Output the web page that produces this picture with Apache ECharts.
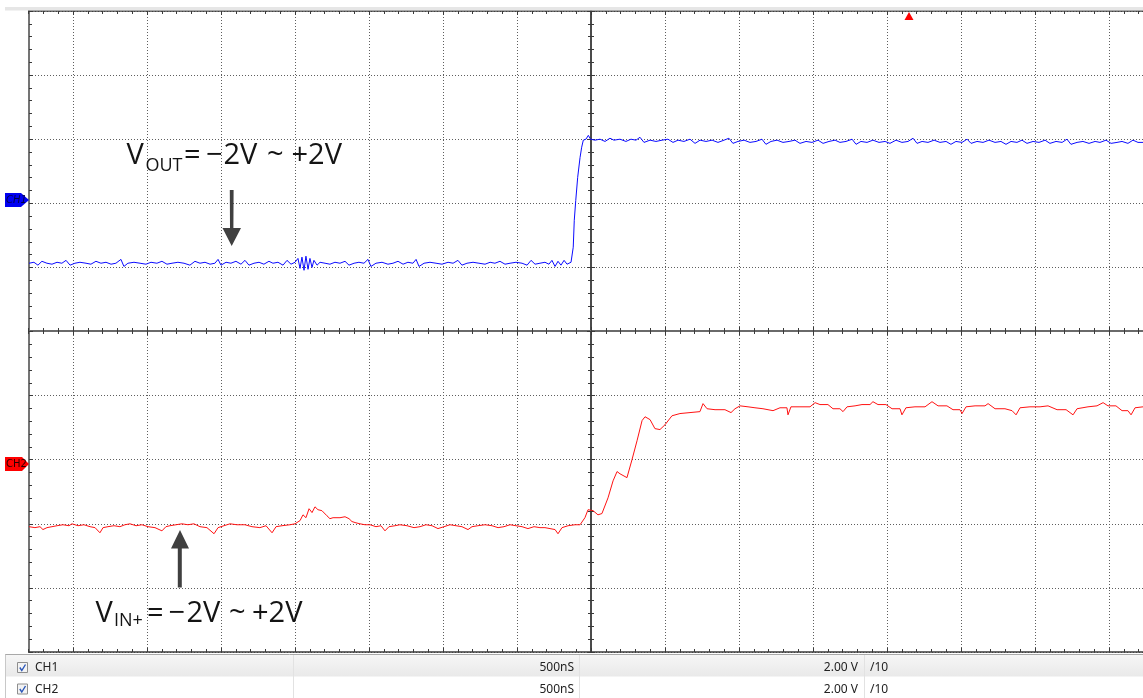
<!DOCTYPE html>
<html><head><meta charset="utf-8">
<script src="https://cdn.jsdelivr.net/npm/echarts@6/dist/echarts.min.js"></script>
<style>html,body{margin:0;padding:0;background:#fff;overflow:hidden}#c{width:1143px;height:698px}</style>
</head><body><div id="c"></div>
<script>
// time base: 500 ns/div, both channels 2.00 V/div
const timeRange = [-4000, 4000];
const timeDiv = 500;
const ch1Range = [-14, 6];
const ch2Range = [-6, 14];
const voltDiv = 2;

// CH1 (V_OUT) samples [ns, V]
const ch1Data = [[-3797,-1.87],[-3764,-1.84],[-3737,-1.93],[-3710,-1.81],[-3676,-1.87],[-3642,-1.90],[-3608,-1.84],[-3575,-1.87],[-3547,-1.78],[-3520,-1.93],[-3487,-1.87],[-3453,-1.84],[-3412,-1.87],[-3379,-1.90],[-3345,-1.81],[-3311,-1.87],[-3277,-1.84],[-3243,-1.90],[-3210,-1.87],[-3176,-1.75],[-3156,-1.97],[-3129,-1.87],[-3088,-1.84],[-3047,-1.87],[-3007,-1.90],[-2973,-1.84],[-2933,-1.87],[-2899,-1.81],[-2865,-1.90],[-2831,-1.87],[-2791,-1.84],[-2750,-1.87],[-2710,-1.93],[-2676,-1.81],[-2642,-1.87],[-2608,-1.84],[-2574,-1.90],[-2541,-1.87],[-2520,-1.75],[-2500,-1.93],[-2466,-1.84],[-2433,-1.87],[-2399,-1.81],[-2365,-1.90],[-2338,-1.78],[-2311,-1.93],[-2277,-1.87],[-2243,-1.84],[-2210,-1.90],[-2176,-1.81],[-2149,-1.87],[-2115,-1.84],[-2081,-1.93],[-2054,-1.78],[-2027,-1.90],[-2000,-1.84],[-1980,-1.72],[-1966,-2.03],[-1953,-1.68],[-1939,-2.09],[-1926,-1.65],[-1912,-2.06],[-1899,-1.72],[-1885,-2.00],[-1872,-1.78],[-1851,-1.93],[-1831,-1.84],[-1797,-1.87],[-1764,-1.90],[-1730,-1.84],[-1696,-1.87],[-1662,-1.81],[-1635,-1.93],[-1601,-1.87],[-1568,-1.84],[-1534,-1.87],[-1507,-1.75],[-1487,-1.97],[-1453,-1.87],[-1412,-1.84],[-1372,-1.90],[-1338,-1.87],[-1304,-1.81],[-1270,-1.90],[-1237,-1.84],[-1203,-1.87],[-1182,-1.75],[-1162,-1.97],[-1128,-1.87],[-1088,-1.84],[-1047,-1.87],[-1007,-1.90],[-966,-1.84],[-932,-1.87],[-899,-1.78],[-872,-1.93],[-838,-1.87],[-797,-1.84],[-757,-1.87],[-716,-1.90],[-682,-1.84],[-649,-1.87],[-615,-1.81],[-581,-1.90],[-547,-1.87],[-507,-1.84],[-466,-1.87],[-432,-1.93],[-405,-1.78],[-378,-1.90],[-345,-1.87],[-311,-1.84],[-284,-1.90],[-264,-1.78],[-243,-1.97],[-223,-1.81],[-203,-1.93],[-182,-1.78],[-162,-1.90],[-149,-1.84],[-135,-1.84],
[-130,-1.81],[-120,-1.37],[-113,-0.53],[-103,0.09],[-90,0.81],[-74,1.43],[-63,1.75],[-52,1.97],[-34,2.00],[-18,2.12],[-3,2.00],
[0,2.00],[27,1.97],[61,2.00],[95,1.93],[128,2.03],[155,1.97],[196,2.00],[236,1.93],[270,2.00],[304,1.97],[331,2.06],[358,1.90],[399,1.97],[439,1.93],[480,1.97],[520,2.00],[554,1.90],[588,1.97],[628,1.93],[669,2.00],[703,1.87],[737,1.97],[777,1.93],[818,1.97],[858,1.90],[899,1.97],[932,2.03],[959,1.87],[993,1.93],[1034,1.97],[1074,1.90],[1115,1.93],[1155,2.00],[1182,1.84],[1216,1.93],[1257,1.97],[1297,1.90],[1338,1.93],[1378,1.97],[1412,1.87],[1453,1.93],[1493,1.90],[1534,1.97],[1568,1.87],[1608,1.93],[1649,1.97],[1682,1.90],[1723,1.93],[1764,2.00],[1791,1.84],[1824,1.93],[1865,1.90],[1905,1.97],[1946,1.90],[1987,1.93],[2020,1.87],[2061,1.97],[2101,1.90],[2142,1.93],[2176,2.03],[2203,1.87],[2237,1.93],[2277,1.90],[2318,1.97],[2358,1.90],[2399,1.93],[2432,1.84],[2466,1.93],[2507,1.90],[2541,2.00],[2568,1.87],[2608,1.93],[2649,1.90],[2689,1.97],[2730,1.90],[2770,1.93],[2804,1.84],[2838,1.93],[2878,1.90],[2912,1.97],[2946,1.87],[2987,1.93],[3027,1.90],[3068,1.97],[3101,1.87],[3142,1.93],[3183,1.90],[3216,2.00],[3243,1.84],[3284,1.90],[3324,1.93],[3365,1.87],[3406,1.93],[3439,1.90],[3480,1.97],[3514,1.87],[3554,1.90],[3588,1.93],[3628,1.87],[3662,1.97],[3696,1.90],[3730,1.90]];

// CH2 (V_IN+) samples [ns, V]
const ch2Data = [[-3797,-2.09],[-3757,-2.12],[-3723,-2.09],[-3703,-2.18],[-3676,-2.12],[-3642,-2.09],[-3608,-2.06],[-3568,-2.03],[-3527,-2.06],[-3507,-2.00],[-3466,-2.06],[-3426,-2.03],[-3385,-2.09],[-3351,-2.12],[-3318,-2.28],[-3297,-2.12],[-3264,-2.09],[-3223,-2.06],[-3183,-2.09],[-3149,-2.03],[-3115,-2.00],[-3074,-2.06],[-3034,-2.03],[-2993,-2.09],[-2946,-2.12],[-2899,-2.22],[-2872,-2.09],[-2845,-2.06],[-2804,-2.03],[-2764,-2.00],[-2723,-2.03],[-2683,-2.00],[-2642,-2.09],[-2595,-2.12],[-2547,-2.31],[-2520,-2.12],[-2480,-2.06],[-2439,-2.00],[-2392,-2.03],[-2338,-2.03],[-2291,-2.09],[-2237,-2.12],[-2196,-2.06],[-2155,-2.28],[-2128,-2.09],[-2088,-2.06],[-2034,-2.03],[-2000,-2.00],[-1966,-1.90],[-1946,-1.72],[-1926,-1.81],[-1905,-1.53],[-1885,-1.65],[-1865,-1.47],[-1845,-1.56],[-1818,-1.59],[-1784,-1.75],[-1764,-1.84],[-1743,-1.81],[-1696,-1.81],[-1662,-1.78],[-1635,-1.84],[-1615,-1.93],[-1588,-1.97],[-1561,-2.00],[-1527,-2.03],[-1493,-2.03],[-1453,-2.09],[-1419,-2.06],[-1392,-2.22],[-1365,-2.09],[-1324,-2.06],[-1291,-2.03],[-1243,-2.06],[-1196,-2.12],[-1155,-2.09],[-1115,-2.03],[-1074,-2.06],[-1034,-2.15],[-993,-2.09],[-953,-2.03],[-912,-2.06],[-872,-2.09],[-831,-2.18],[-804,-2.09],[-764,-2.06],[-716,-2.03],[-669,-2.06],[-628,-2.12],[-588,-2.09],[-547,-2.03],[-507,-2.06],[-466,-2.09],[-426,-2.15],[-385,-2.09],[-345,-2.12],[-311,-2.12],[-277,-2.15],[-243,-2.18],[-223,-2.31],[-196,-2.12],[-155,-2.06],[-108,-2.03],[-74,-2.03],[-41,-1.81],[-20,-1.56],[14,-1.59],[47,-1.72],[74,-1.68],[115,-1.19],[149,-0.66],[176,-0.37],[196,-0.44],[209,-0.47],[243,-0.56],[277,0.00],[311,0.59],[345,1.22],[365,1.34],[399,1.25],[432,0.97],[466,0.94],[500,1.09],[547,1.37],[601,1.44],[669,1.47],[736,1.50],[757,1.75],[784,1.59],[838,1.56],[905,1.56],[946,1.47],[973,1.59],[1007,1.68],[1061,1.65],[1108,1.62],[1162,1.59],[1230,1.53],[1277,1.62],[1324,1.62],[1331,1.40],[1351,1.65],[1412,1.65],[1480,1.65],[1514,1.78],[1547,1.72],[1601,1.72],[1635,1.59],[1682,1.59],[1703,1.50],[1730,1.65],[1784,1.68],[1831,1.72],[1885,1.72],[1905,1.81],[1939,1.72],[1993,1.72],[2034,1.59],[2088,1.59],[2101,1.40],[2128,1.62],[2189,1.65],[2257,1.65],[2304,1.81],[2345,1.68],[2405,1.68],[2446,1.56],[2493,1.56],[2507,1.44],[2534,1.65],[2595,1.68],[2662,1.68],[2683,1.75],[2730,1.59],[2797,1.59],[2845,1.53],[2872,1.40],[2899,1.62],[2966,1.65],[3034,1.65],[3088,1.68],[3149,1.56],[3210,1.56],[3257,1.40],[3284,1.59],[3358,1.65],[3419,1.68],[3460,1.78],[3493,1.68],[3547,1.68],[3588,1.53],[3628,1.53],[3649,1.40],[3676,1.62],[3730,1.65]];

const channelNames = ['CH1', 'CH2'];
const timebaseText = ['500nS', '500nS'];
const scaleText = ['2.00 V', '2.00 V'];
const probeText = ['/10', '/10'];
const annotTop = ['V', 'OUT', '=', '\u2212', '2V', '~', '+2V'];
const annotBottom = ['V', 'IN+', '=', '\u2212', '2V', '~', '+2V'];

const AX = '#3a3a3a';
function xAx(pos, offset, inside, split, color, width) {
  return {type:'value', min:timeRange[0], max:timeRange[1], interval:timeDiv, position:pos, offset:offset,
    axisLine:{show:true, onZero:false, lineStyle:{color:color||AX, width:width||1.5}},
    axisTick:{show:true, inside:inside, length:4, lineStyle:{color:AX, width:1}},
    minorTick:{show:true, splitNumber:5, length:3, lineStyle:{color:AX, width:1}},
    axisLabel:{show:false},
    splitLine:{show:split, lineStyle:{color:'#5e5e5e', width:1, type:[1,2]}},
    minorSplitLine:{show:false}};
}
function yAx(range, pos, offset, inside, split, show, color, width) {
  return {type:'value', show:show, min:range[0], max:range[1], interval:voltDiv, position:pos, offset:offset,
    axisLine:{show:true, onZero:false, lineStyle:{color:color||AX, width:width||1.5}},
    axisTick:{show:true, inside:inside, length:4, lineStyle:{color:AX, width:1}},
    minorTick:{show:true, splitNumber:5, length:3, lineStyle:{color:AX, width:1}},
    axisLabel:{show:false},
    splitLine:{show:split, lineStyle:{color:'#5e5e5e', width:1, type:[1,2]}},
    minorSplitLine:{show:false}};
}

function txt(x, y, s, size) {
  return {type:'text', x:x, y:y, z:80, silent:true,
    style:{text:s, fontSize:size, fontFamily:'"Open Sans"', fill:'#141414',
      align:'left', verticalAlign:'middle', textAlign:'left', textVerticalAlign:'middle'}};
}
function small(x, y, s, alignR) {
  const a = alignR ? 'right' : 'left';
  return {type:'text', x:x, y:y, z:80, silent:true,
    style:{text:s, fontSize:12, fontFamily:'"Noto Sans"', fill:'#222', align:a, textAlign:a, verticalAlign:'middle', textVerticalAlign:'middle'}};
}

const G = [];
// blank margin left of the graticule
G.push({type:'rect', z:50, silent:true, shape:{x:0,y:0,width:28,height:654}, style:{fill:'#ffffff'}});
// top strip
G.push({type:'rect', z:50, silent:true, shape:{x:5,y:7,width:1138,height:3.5}, style:{fill:'#e6e6e6'}});
// channel markers
G.push({type:'polygon', z:60, silent:true, shape:{points:[[5,193],[21,193],[29,200],[21,207],[5,207]]}, style:{fill:'#0000f2'}});
G.push({type:'text', x:6, y:200, z:61, silent:true, style:{text:channelNames[0], fontSize:10, fontStyle:'italic', fontFamily:'"DejaVu Sans"', fill:'#00004a', align:'left', textAlign:'left', verticalAlign:'middle', textVerticalAlign:'middle'}});
G.push({type:'polygon', z:60, silent:true, shape:{points:[[5,457],[22,457],[29,464],[22,471],[5,471]]}, style:{fill:'#ff0000'}});
G.push({type:'text', x:6, y:464, z:61, silent:true, style:{text:channelNames[1], fontSize:10, fontFamily:'"DejaVu Sans"', fill:'#2a0000', align:'left', textAlign:'left', verticalAlign:'middle', textVerticalAlign:'middle'}});
// trigger marker
G.push({type:'polygon', z:60, silent:true, shape:{points:[[904.5,20],[913.5,20],[909,12]]}, style:{fill:'#ff0000'}});
// annotations
const topX = [126.5, 145.5, 184, 206, 223.5, 267, 291.5];
const botX = [95.5, 114, 147, 168.5, 186.5, 229, 252];
annotTop.forEach(function(s, i){ G.push(txt(topX[i], i === 1 ? 165.7 : 155.5, s, i === 1 ? 18 : 29)); });
annotBottom.forEach(function(s, i){ G.push(txt(botX[i], i === 1 ? 621.3 : 613.8, s, i === 1 ? 18 : 29)); });
G.push({type:'polygon', z:70, silent:true, shape:{points:[[229.8,190],[233.6,190],[233.4,228],[241,228],[231.7,246],[222.5,228],[230,228]]}, style:{fill:'#404040'}});
G.push({type:'polygon', z:70, silent:true, shape:{points:[[177.8,587.5],[181.8,587.5],[181.8,548.5],[189,548.5],[180,530],[171,548.5],[177.8,548.5]]}, style:{fill:'#404040'}});
// channel table
G.push({type:'rect', z:50, silent:true, shape:{x:0,y:654,width:1143,height:44}, style:{fill:'#ffffff'}});
G.push({type:'rect', z:51, silent:true, shape:{x:5,y:655,width:1138,height:21.5}, style:{fill:new echarts.graphic.LinearGradient(0,0,0,1,[{offset:0,color:'#f6f6f6'},{offset:1,color:'#e9e9e9'}])}});
G.push({type:'line', z:52, silent:true, shape:{x1:5,y1:654.5,x2:1143,y2:654.5}, style:{stroke:'#a9a9a9', lineWidth:1}});
G.push({type:'line', z:52, silent:true, shape:{x1:5.5,y1:654.5,x2:5.5,y2:698}, style:{stroke:'#c8c8c8', lineWidth:1}});
[293.5, 579.5, 864.5].forEach(function(x){
  G.push({type:'line', z:52, silent:true, shape:{x1:x,y1:655,x2:x,y2:698}, style:{stroke:'#e2e2e2', lineWidth:1}});
});
[668, 689.5].forEach(function(cy, i){
  G.push({type:'rect', z:53, silent:true, shape:{x:17.5,y:cy-5.5,width:10,height:10}, style:{fill:'#f3f3f3', stroke:'#8e8e8e', lineWidth:1}});
  G.push({type:'polyline', z:54, silent:true, shape:{points:[[19.8,cy-0.5],[21.8,cy+2.5],[25.5,cy-3.5]]}, style:{stroke:'#2a56b8', lineWidth:1.4, fill:null}});
  G.push(small(35, cy, channelNames[i], false));
  G.push(small(574, cy, timebaseText[i], true));
  G.push(small(858, cy, scaleText[i], true));
  G.push(small(870, cy, probeText[i], false));
});

const chart = echarts.init(document.getElementById('c'));
chart.setOption({
  animation:false,
  backgroundColor:'#ffffff',
  grid:{left:-1, top:11, width:1184, height:641, outerBoundsMode:'none', show:false},
  xAxis:[
    xAx('bottom', 0, true, true),
    xAx('top', 0, true, false),
    xAx('bottom', -321, false, false, '#6a6a6a', 2),
    xAx('bottom', -321, true, false, '#6a6a6a', 2)
  ],
  yAxis:[
    yAx(ch1Range, 'left', -30, true, true, true, '#747474', 2),
    yAx(ch2Range, 'left', 0, true, false, false),
    yAx(ch1Range, 'left', -592, false, false, true, '#4a4a4a', 1.8),
    yAx(ch1Range, 'left', -592, true, false, true, '#4a4a4a', 1.8)
  ],
  series:[
    {type:'line', name:channelNames[0], xAxisIndex:0, yAxisIndex:0, data:ch1Data, symbol:'none', showSymbol:false, z:5, lineStyle:{color:'#0b0bff', width:1}},
    {type:'line', name:channelNames[1], xAxisIndex:0, yAxisIndex:1, data:ch2Data, symbol:'none', showSymbol:false, z:5, lineStyle:{color:'#ff1212', width:1}}
  ],
  graphic:{elements:G}
});
</script></body></html>
